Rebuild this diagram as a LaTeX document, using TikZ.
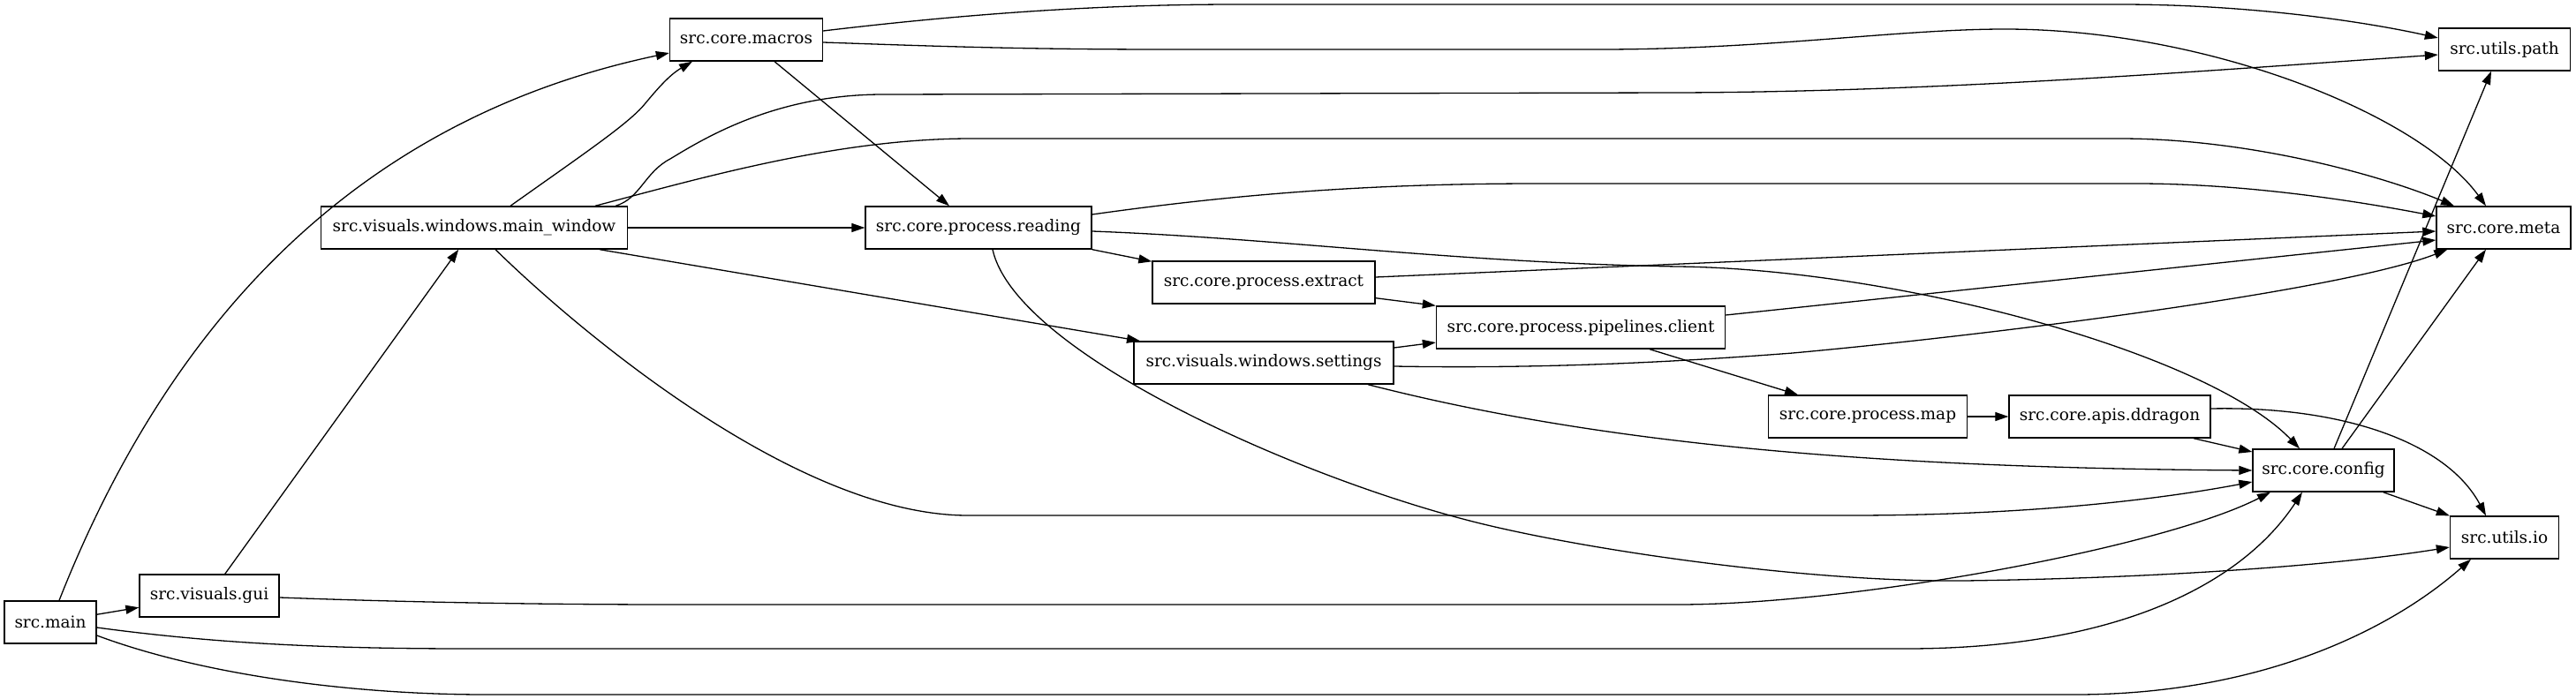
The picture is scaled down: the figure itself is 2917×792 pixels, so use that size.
\documentclass[tikz,border=0pt]{standalone}
\usepackage{fontspec}
\setmainfont{DejaVu Serif}
\usetikzlibrary{arrows.meta,calc}
\begin{document}
\begin{tikzpicture}[x=1pt,y=-1pt,
  mod/.style={draw=black,line width=1.4pt,fill=white,minimum height=48pt,inner sep=0pt,font=\fontsize{18.5}{22}\selectfont},
  edge/.style={draw=black,line width=1.3pt,-{Triangle[length=15pt,width=10pt]}}]
\useasboundingbox (0,0) rectangle (2917,792);
% nodes
\node[mod,minimum width=104pt] (main) at (57,705) {src.main};
\node[mod,minimum width=158pt] (gui) at (237,675) {src.visuals.gui};
\node[mod,minimum width=347pt] (mw) at (537,258) {src.visuals.windows.main\_window};
\node[mod,minimum width=173pt] (macros) at (845,45) {src.core.macros};
\node[mod,minimum width=256pt] (reading) at (1108,258) {src.core.process.reading};
\node[mod,minimum width=252pt] (extract) at (1431,320) {src.core.process.extract};
\node[mod,minimum width=294pt] (settings) at (1431,411) {src.visuals.windows.settings};
\node[mod,minimum width=327pt] (client) at (1790,371) {src.core.process.pipelines.client};
\node[mod,minimum width=225pt] (map) at (2115,472) {src.core.process.map};
\node[mod,minimum width=228pt] (ddragon) at (2389,472) {src.core.apis.ddragon};
\node[mod,minimum width=160pt] (config) at (2631,533) {src.core.config};
\node[mod,minimum width=149pt] (path) at (2836,56) {src.utils.path};
\node[mod,minimum width=152pt] (meta) at (2835,258) {src.core.meta};
\node[mod,minimum width=123pt] (io) at (2836,609) {src.utils.io};
% edges from main
\draw[edge] ($(main.north)+(10,0)$) .. controls (206,328) and (436,128) .. ($(macros.west)+(0,15)$);
\draw[edge] (main) -- (gui);
\draw[edge] ($(main.east)+(0,6)$) .. controls (250,730) and (380,735) .. (530,735) -- (2159,735) .. controls (2400,735) and (2540,660) .. ($(config.south)+(-24,0)$);
\draw[edge] ($(main.east)+(0,15)$) .. controls (230,765) and (400,787) .. (550,787) -- (2350,787) .. controls (2550,787) and (2700,720) .. ($(io.south)+(-38,0)$);
% gui
\draw[edge] (gui) -- (mw);
\draw[edge] ($(gui.east)+(0,2)$) .. controls (450,682) and (600,685) .. (765,685) -- (1900,685) .. controls (2100,685) and (2450,620) .. ($(config.south)+(-60,0)$);
% main window
\draw[edge] ($(mw.north)+(41,0)$) .. controls (660,175) and (712,140) .. (730,118) .. controls (745,100) and (758,85) .. ($(macros.south)+(-61,0)$);
\draw[edge] (mw) -- (reading);
\draw[edge] ($(mw.north)+(160,0)$) .. controls (725,225) and (730,195) .. (759,180) .. controls (800,155) and (880,107) .. (1000,107) -- (1900,105) .. controls (2200,104) and (2500,80) .. ($(path.west)+(0,6)$);
\draw[edge] ($(mw.north)+(137,0)$) .. controls (800,200) and (950,157) .. (1100,157) -- (2400,157) .. controls (2550,157) and (2700,200) .. ($(meta.north)+(-56,0)$);
\draw[edge] ($(mw.south)+(142,0)$) -- ($(settings.north)+(-140,0)$);
\draw[edge] ($(mw.south)+(24,0)$) .. controls (650,370) and (900,584) .. (1096,584) -- (2095,584) .. controls (2300,584) and (2450,565) .. ($(config.west)+(0,13)$);
% macros
\draw[edge] ($(macros.east)+(0,-10)$) .. controls (1100,15) and (1250,5) .. (1400,5) -- (2400,5) .. controls (2550,5) and (2680,25) .. ($(path.west)+(0,-13)$);
\draw[edge] ($(macros.east)+(0,3)$) .. controls (1050,52) and (1150,56) .. (1321,56) -- (1812,56) .. controls (2000,56) and (2150,33) .. (2270,33) .. controls (2500,33) and (2740,130) .. ($(meta.north)+(-20,0)$);
\draw[edge] ($(macros.south)+(32,0)$) -- ($(reading.north)+(-33,0)$);
% reading
\draw[edge] ($(reading.east)+(0,-15)$) .. controls (1400,220) and (1550,208) .. (1742,208) -- (2419,208) .. controls (2550,208) and (2680,230) .. ($(meta.west)+(0,-13)$);
\draw[edge] (reading.south east) -- ($(extract.north west)+(0,1)$);
\draw[edge] ($(reading.east)+(0,4)$) .. controls (1450,270) and (1650,298) .. (1900,302) .. controls (2150,305) and (2500,400) .. ($(config.north)+(-27,0)$);
\draw[edge] ($(reading.south)+(16,0)$) .. controls (1150,400) and (1472,542) .. (1672,592) .. controls (1800,624) and (2050,660) .. (2224,658) .. controls (2450,655) and (2650,640) .. ($(io.west)+(0,11)$);
% extract
\draw[edge] ($(extract.south east)+(0,-7)$) -- (client.north west);
\draw[edge] ($(extract.east)+(0,-6)$) -- ($(meta.west)+(0,4)$);
% settings
\draw[edge] ($(settings.east)+(0,-17)$) -- ($(client.west)+(0,17)$);
\draw[edge] ($(settings.east)+(0,4)$) .. controls (1750,418) and (1900,410) .. (2030,400) .. controls (2250,380) and (2650,330) .. ($(meta.south west)+(13,0)$);
\draw[edge] ($(settings.south)+(118,0)$) .. controls (1800,500) and (2100,530) .. (config.west);
% client
\draw[edge] ($(client.east)+(0,-14)$) -- ($(meta.west)+(0,14)$);
\draw[edge] ($(client.south)+(78,0)$) -- ($(map.north)+(-79,0)$);
% map, ddragon
\draw[edge] (map) -- (ddragon);
\draw[edge] ($(ddragon.south)+(95,0)$) -- ($(config.west)+(0,-21)$);
\draw[edge] ($(ddragon.east)+(0,-9)$) .. controls (2650,460) and (2770,500) .. ($(io.north)+(-21,0)$);
% config
\draw[edge] ($(config.south east)+(-13,0)$) -- (io.north west);
\draw[edge] ($(config.north)+(12,0)$) -- ($(path.south)+(-15,0)$);
\draw[edge] ($(config.north)+(21,0)$) -- ($(meta.south)+(-20,0)$);
\end{tikzpicture}
\end{document}
